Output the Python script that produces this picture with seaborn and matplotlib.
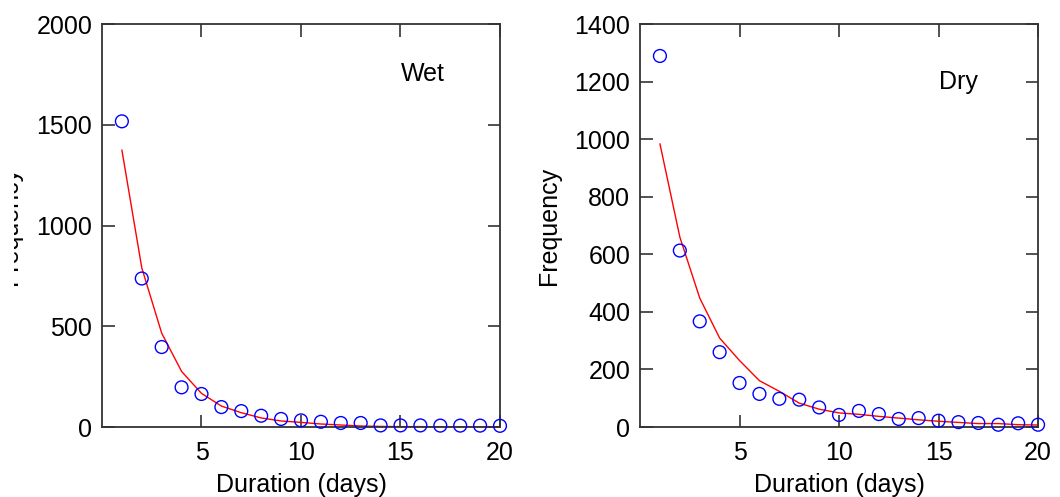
"""
Frequency of wet and dry spell durations with fitted curve.
"""

import numpy as np
import pandas as pd
import matplotlib
matplotlib.use('Agg')
import matplotlib.pyplot as plt
from matplotlib.transforms import Bbox, TransformedBbox
import seaborn as sns

# datos
dias = list(range(1, 21))

wet_obs = [1517, 737, 397, 197, 164, 99, 79, 56, 40, 33,
           26, 20, 20, 8, 8, 8, 7, 7, 7, 6]
wet_fit = [1375, 790, 466, 276, 167, 104, 71, 45, 30, 23,
           15, 10, 5, 3, 2, 2, 1, 1, 1, 1]

dry_obs = [1289, 613, 367, 260, 153, 115, 98, 95, 68, 42,
           56, 45, 28, 31, 22, 17, 14, 8, 13, 8]
dry_fit = [984, 660, 448, 309, 231, 161, 124, 83, 62, 49,
           44, 37, 31, 25, 20, 16, 12, 12, 8, 7]

paneles = [
    ('Wet', wet_obs, wet_fit, 2000, [0, 500, 1000, 1500, 2000], 1750),
    ('Dry', dry_obs, dry_fit, 1400, [0, 200, 400, 600, 800, 1000, 1200, 1400], 1200),
]

sns.set_theme(style='ticks')
plt.rcParams['font.family'] = ['Liberation Sans', 'DejaVu Sans']
plt.rcParams['text.color'] = 'black'
plt.rcParams['axes.labelcolor'] = 'black'
plt.rcParams['xtick.labelcolor'] = 'black'
plt.rcParams['ytick.labelcolor'] = 'black'

fig = plt.figure(figsize=(10.6, 4.97), dpi=100)
posiciones = [[0.0962, 0.1408, 0.3755, 0.8109],
              [0.6038, 0.1408, 0.3755, 0.8109]]

ejes = []
for pos, (nombre, obs, fit, ymax, yticks, ytexto) in zip(posiciones, paneles):
    ax = fig.add_axes(pos)
    df = pd.DataFrame({'dias': dias, 'obs': obs, 'fit': fit})

    sns.lineplot(data=df, x='dias', y='fit', ax=ax, color='red', linewidth=1.0)
    sns.scatterplot(data=df, x='dias', y='obs', ax=ax, marker='o', s=85,
                    facecolor='none', edgecolor='blue', linewidth=1.0,
                    clip_on=False, zorder=5)

    ax.set_xlim(0, 20)
    ax.set_ylim(0, ymax)
    ax.set_xticks([5, 10, 15, 20])
    ax.set_yticks(yticks)
    ax.tick_params(direction='in', length=9, width=1.2, color='#333333',
                   top=True, right=True, labelsize=18, pad=7)
    ax.tick_params(axis='x', pad=10)
    for sp in ax.spines.values():
        sp.set_color('#333333')
        sp.set_linewidth(1.3)

    ax.set_xlabel('Duration (days)', fontsize=18, labelpad=6)
    ax.set_ylabel('Frequency', fontsize=18, labelpad=10)
    ax.text(15, ytexto, nombre, fontsize=18, va='center', ha='left')
    ejes.append(ax)

# en el original la etiqueta del panel izquierdo sale recortada
lbl = ejes[0].yaxis.label
lbl.set_clip_box(TransformedBbox(Bbox([[14 / 1060, 0], [1, 1]]), fig.transFigure))
lbl.set_clip_on(True)

fig.savefig('out.png', dpi=100)
plt.close(fig)
